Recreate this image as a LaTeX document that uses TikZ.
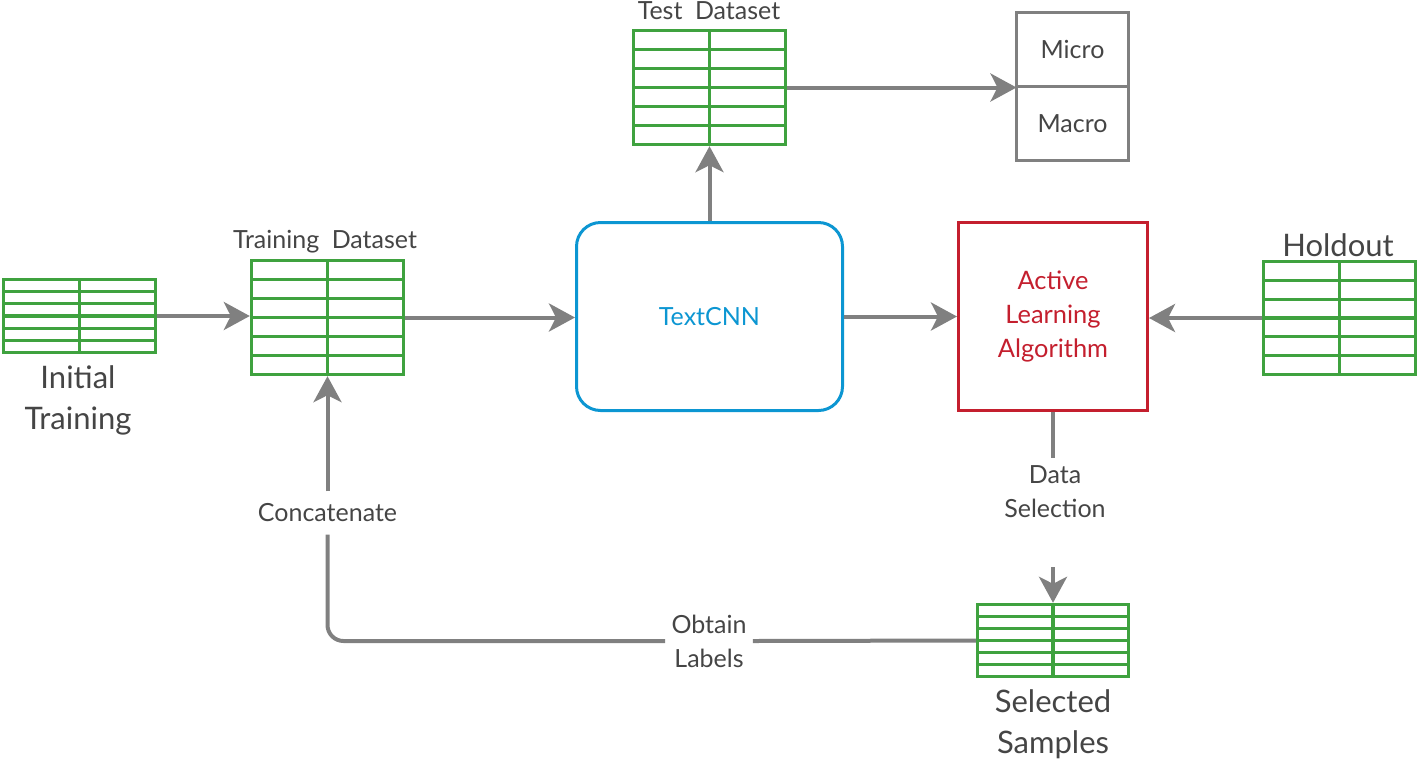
\documentclass[tikz,border=0pt]{standalone}
\usepackage{fontspec}
\setmainfont{Lato}
\usetikzlibrary{positioning,calc,arrows.meta}
\definecolor{tabgreen}{HTML}{3FA23F}
\definecolor{flowgray}{HTML}{808080}
\definecolor{txtgray}{HTML}{454545}
\definecolor{cnnblue}{HTML}{0C96D2}
\definecolor{alred}{HTML}{C41F2E}

\begin{document}
\begin{tikzpicture}[x=0.5pt,y=-0.5pt,
  datatab/.style={draw=tabgreen, line width=1.7pt, fill=white, minimum width=76pt,
    path picture={
      \foreach \k in {1,...,5}
        \draw[tabgreen, line width=1.6pt]
          ($(path picture bounding box.north west)!\k/6!(path picture bounding box.south west)$) --
          ($(path picture bounding box.north east)!\k/6!(path picture bounding box.south east)$);
      \draw[tabgreen, line width=1.6pt] (path picture bounding box.north) -- (path picture bounding box.south);
    }},
  cnnbox/.style={draw=cnnblue, line width=1.5pt, rounded corners=12pt, minimum width=133pt, minimum height=94pt,
    text=cnnblue, font=\fontsize{12.5}{17}\selectfont},
  albox/.style={draw=alred, line width=1.5pt, minimum width=94.5pt, minimum height=94pt,
    text=alred, align=center, font=\fontsize{12.7}{17}\selectfont},
  metricbox/.style={draw=flowgray, line width=1.5pt, outer sep=0pt, minimum width=56pt, minimum height=37pt,
    text=txtgray, font=\fontsize{12.5}{15}\selectfont},
  lbl/.style={text=txtgray, align=center, font=\fontsize{12.5}{17}\selectfont},
  midlbl/.style={text=txtgray, font=\fontsize{12.5}{15}\selectfont},
  biglbl/.style={text=txtgray, align=center, font=\fontsize{15.5}{20.5}\selectfont},
  line/.style={draw=flowgray, line width=2pt},
  flow/.style={line, -{Stealth[length=13pt,width=14pt,inset=3.5pt]}}
]
\useasboundingbox (0,0) rectangle (1418,761);

% data tables
\node[datatab, minimum height=36.5pt] (init) at (79.5,316) {};
\node[datatab, minimum height=57pt] (train) at (327.5,317.5) {};
\node[datatab, minimum height=57pt] (test) at (709.5,87.5) {};
\node[datatab, minimum height=56.5pt] (holdout) at (1339.5,318) {};
\node[datatab, minimum width=75.5pt, minimum height=36pt] (selected) at (1053,640.5) {};

% model, selection and metrics
\node[cnnbox] (textcnn) at (709.5,316.5) {TextCNN};
\node[albox] (ala) at (1053,316.5) {Active\\Learning\\Algorithm};
\node[metricbox] (micro) at (1072.5,49.5) {Micro};
\node[metricbox, below=0pt of micro] (macro) {Macro};

% labels
\node[biglbl] (initlbl) at (78,400) {Initial\\Training};
\node[midlbl, anchor=base] (trainlbl) at (325,248) {Training\enspace Dataset};
\node[midlbl, anchor=base] (testlbl) at (709,19) {Test\enspace Dataset};
\node[biglbl, anchor=base] (holdlbl) at (1338,256) {Holdout};
\node[biglbl] (sellbl) at (1053,724) {Selected\\Samples};
\node[lbl, inner sep=4pt] (dsel) at (1055,492) {Data\\Selection};
\node[lbl, inner sep=6pt] (concat) at (327.5,513) {Concatenate};
\node[lbl, inner xsep=3pt] (obtain) at (709,641) {Obtain\\Labels};
\coordinate (dselend) at (1053,567);

% connectors
\draw[flow] (init.east) -- (init.east -| train.west);
\draw[flow] (train.east) -- (train.east -| textcnn.west);
\draw[flow] (textcnn.north) -- (test.south);
\draw[flow] (test.east) -- (test.east -| micro.west);
\draw[flow] (textcnn.east) -- (ala.west);
\draw[flow] (holdout.west) -- (holdout.west -| ala.east);
\draw[line] (ala.south) -- (ala.south |- dsel.north);
\draw[flow] (dselend) -- (selected.north);
\draw[line] (selected.west) -- (obtain.east);
\draw[line, rounded corners=8pt] (obtain.west) -| (concat.south);
\draw[flow] (concat.north) -- (train.south);
\end{tikzpicture}
\end{document}
